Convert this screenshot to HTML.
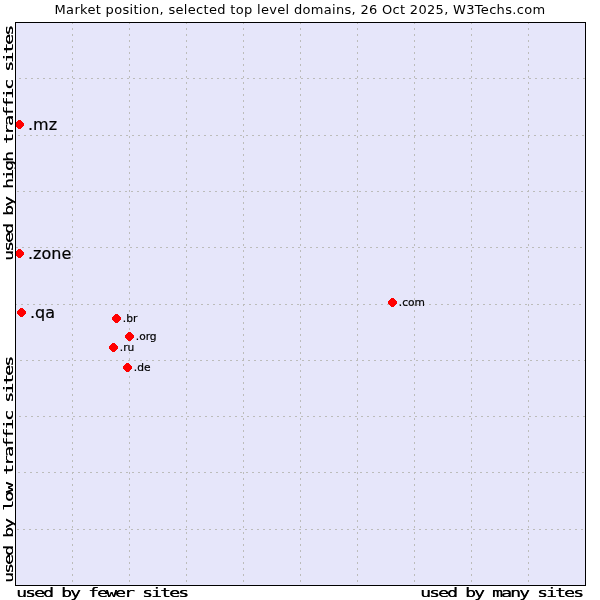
<!DOCTYPE html>
<html><head><meta charset="utf-8"><title>Market position</title>
<style>
html,body{margin:0;padding:0;background:#fff;width:600px;height:600px;overflow:hidden;position:relative}
svg{display:block;position:absolute;left:0;top:0}
.t{font-family:"DejaVu Sans","Liberation Sans",sans-serif;fill:#000;stroke:#000;stroke-width:0.2px}
.g{stroke:#bcbcba;stroke-width:1;stroke-dasharray:2 4;fill:none}
.d{fill:#ff0000}
.m{position:absolute;margin:0;font-family:"DejaVu Sans Mono","Liberation Mono",monospace;font-size:13px;line-height:15px;letter-spacing:-1.397px;white-space:pre;color:#000;text-shadow:0.25px 0 0 #000;transform-origin:0 0}
.h{transform:scaleX(1.4)}
.v{transform:rotate(-90deg) scaleX(1.4)}
</style></head>
<body>
<svg width="600" height="600" viewBox="0 0 600 600">
<rect x="16" y="23" width="569" height="562" fill="#e6e6fa"/>
<g class="g" shape-rendering="crispEdges">
<line x1="72.5" y1="22" x2="72.5" y2="585"/>
<line x1="129.5" y1="22" x2="129.5" y2="585"/>
<line x1="186.5" y1="22" x2="186.5" y2="585"/>
<line x1="243.5" y1="22" x2="243.5" y2="585"/>
<line x1="300.5" y1="22" x2="300.5" y2="585"/>
<line x1="357.5" y1="22" x2="357.5" y2="585"/>
<line x1="414.5" y1="22" x2="414.5" y2="585"/>
<line x1="471.5" y1="22" x2="471.5" y2="585"/>
<line x1="528.5" y1="22" x2="528.5" y2="585"/>
<line x1="19" y1="78.5" x2="585" y2="78.5"/>
<line x1="18" y1="135.5" x2="585" y2="135.5"/>
<line x1="17" y1="191.5" x2="585" y2="191.5"/>
<line x1="16" y1="247.5" x2="585" y2="247.5"/>
<line x1="15" y1="304.5" x2="585" y2="304.5"/>
<line x1="20" y1="360.5" x2="585" y2="360.5"/>
<line x1="19" y1="416.5" x2="585" y2="416.5"/>
<line x1="18" y1="472.5" x2="585" y2="472.5"/>
<line x1="17" y1="529.5" x2="585" y2="529.5"/>
</g>
<g class="d" shape-rendering="crispEdges">
<polygon points="18.1,120.1 20.9,120.1 23.9,123.1 23.9,125.9 20.9,128.9 18.1,128.9 15.1,125.9 15.1,123.1"/>
<polygon points="18.1,249.1 20.9,249.1 23.9,252.1 23.9,254.9 20.9,257.9 18.1,257.9 15.1,254.9 15.1,252.1"/>
<polygon points="20.1,308.1 22.9,308.1 25.9,311.1 25.9,313.9 22.9,316.9 20.1,316.9 17.1,313.9 17.1,311.1"/>
<polygon points="391.1,298.1 393.9,298.1 396.9,301.1 396.9,303.9 393.9,306.9 391.1,306.9 388.1,303.9 388.1,301.1"/>
<polygon points="115.1,314.1 117.9,314.1 120.9,317.1 120.9,319.9 117.9,322.9 115.1,322.9 112.1,319.9 112.1,317.1"/>
<polygon points="128.1,332.1 130.9,332.1 133.9,335.1 133.9,337.9 130.9,340.9 128.1,340.9 125.1,337.9 125.1,335.1"/>
<polygon points="112.1,343.1 114.9,343.1 117.9,346.1 117.9,348.9 114.9,351.9 112.1,351.9 109.1,348.9 109.1,346.1"/>
<polygon points="126.1,363.1 128.9,363.1 131.9,366.1 131.9,368.9 128.9,371.9 126.1,371.9 123.1,368.9 123.1,366.1"/>
</g>
<rect x="15.5" y="22.5" width="570" height="563" fill="none" stroke="#000" stroke-width="1" shape-rendering="crispEdges"/>
<text class="t" style="stroke:none" x="54.6" y="14" font-size="13" textLength="490.5" lengthAdjust="spacing">Market position, selected top level domains, 26 Oct 2025, W3Techs.com</text>
<g class="t">
<text x="28" y="130" font-size="16">.mz</text>
<text x="28" y="259" font-size="16">.zone</text>
<text x="30" y="318" font-size="16">.qa</text>
<text x="398.75" y="306" font-size="10.67">.com</text>
<text x="122.75" y="322" font-size="10.67">.br</text>
<text x="135.75" y="340" font-size="10.67">.org</text>
<text x="119.75" y="351" font-size="10.67">.ru</text>
<text x="133.75" y="371" font-size="10.67">.de</text>
</g>
</svg>
<div class="m h" style="left:16.4px;top:585px">used by fewer sites</div>
<div class="m h" style="left:420.4px;top:585px">used by many sites</div>
<div class="m v" style="left:1px;top:260.6px">used by high traffic sites</div>
<div class="m v" style="left:1px;top:582.6px">used by low traffic sites</div>
</body></html>
